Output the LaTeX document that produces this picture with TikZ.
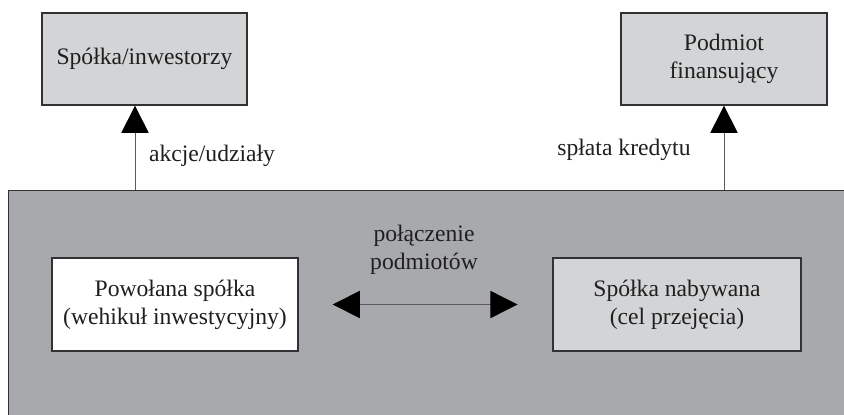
\documentclass[tikz,border=0pt]{standalone}
\usepackage{fontspec}
\setmainfont{Liberation Serif}
\usepackage{xcolor}
\usepackage{tikz}
\usetikzlibrary{arrows.meta}

\definecolor{ramka}{RGB}{168,169,173}
\definecolor{jasny}{RGB}{211,212,214}
\definecolor{linia}{RGB}{50,50,52}

\tikzset{
  box/.style={draw=linia, line width=0.9pt, align=center, text=black!88, inner sep=0pt},
  grot/.tip={Triangle[length=6.8mm,width=6.8mm,color=black]},
  arr/.style={draw=linia!80, line width=0.7pt, -grot},
  opis/.style={align=center, text=black!88}
}

\begin{document}
\begin{tikzpicture}[font=\fontsize{16.8pt}{19.9pt}\selectfont]
        \clip (0,0) rectangle (21.1,10.35);

        % Drawing the frame
        \node[box, fill=ramka, minimum width=21.5cm, minimum height=6.5cm, anchor=north west] (frame) at (0.2,5.6) {};

        % Drawing the upper boxes
        \node[box, fill=jasny, minimum width=5.125cm, minimum height=2.3cm] (inwest) at (3.61,8.875) {Spółka/inwestorzy};
        \node[box, fill=jasny, minimum width=5.15cm, minimum height=2.3cm] (bank) at (18.1,8.875) {Podmiot\\finansujący};

        % Drawing the inner boxes
        \node[box, fill=white, minimum width=6.15cm, minimum height=2.325cm] (wehikul) at (4.375,2.7375) {Powołana spółka\\(wehikuł inwestycyjny)};
        \node[box, fill=jasny, minimum width=6.2cm, minimum height=2.325cm] (cel) at (16.925,2.7375) {Spółka nabywana\\(cel przejęcia)};

        % Drawing the arrows
        \coordinate (a) at (3.375,0);
        \draw[arr] (frame.north -| a) -- (inwest.south -| a);
        \draw[arr] (frame.north -| bank.south) -- (bank.south);
        \draw[arr, grot-grot, shorten <=0.85cm, shorten >=0.87cm] (wehikul.east) -- (cel.west);

        % Labels
        \node[opis] (akcje) at (5.3,6.45) {akcje/udziały};
        \node[opis] (splata) at (15.6,6.6) {spłata kredytu};
        \node[opis] (polaczenie) at (10.6,4.1) {połączenie\\podmiotów};
    \end{tikzpicture}
\end{document}
